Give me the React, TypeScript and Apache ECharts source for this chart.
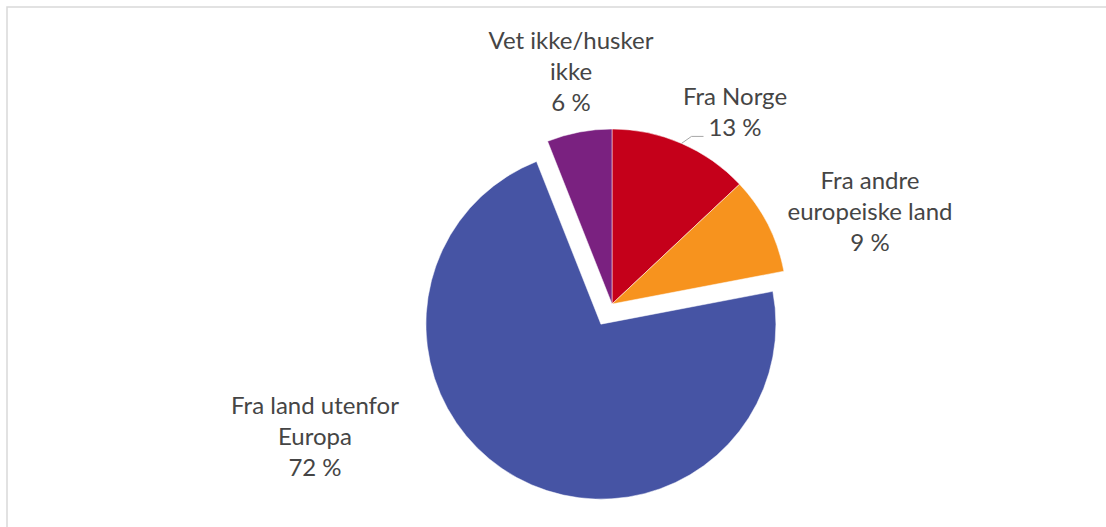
import React, { useEffect, useRef } from "react";
import * as echarts from "echarts";

const categories = ["Fra Norge", "Fra andre europeiske land", "Fra land utenfor Europa", "Vet ikke/husker ikke"];
const labelLines = [["Fra Norge"], ["Fra andre", "europeiske land"], ["Fra land utenfor", "Europa"], ["Vet ikke/husker", "ikke"]];
const values = [13, 9, 72, 6];
const colors = ["#C5001A", "#F7931E", "#4654A4", "#7A2180"];
const exploded = [false, false, true, false];

// layout (px)
const CX = 612;
const CY = 304;
const R = 175;
const labelPos = [
  [735, 111],
  [870, 210],
  [315, 435],
  [571, 70],
];

export default function App() {
  const ref = useRef<HTMLDivElement>(null);
  useEffect(() => {
    const chart = echarts.init(ref.current!, null, { renderer: "svg" });
    const total = values.reduce((a, b) => a + b, 0);
    const labelGraphics = categories.map((_, i) => ({
      type: "text",
      x: labelPos[i][0],
      y: labelPos[i][1],
      z: 10,
      style: {
        text: labelLines[i].join("\n") + "\n" + Math.round((values[i] / total) * 100) + " %",
        fill: "#454545",
        font: "24px Lato",
        lineHeight: 31,
        align: "center",
        verticalAlign: "middle",
      },
    }));
    // leader line for first slice, from its mid-angle on the rim
    const mid = ((values[0] / 2) / total) * Math.PI * 2;
    const p0 = [CX + R * Math.sin(mid), CY - R * Math.cos(mid)];
    const p1 = [p0[0] + 10, p0[1] - 7];
    const p2 = [p1[0] + 12, p1[1]];
    chart.setOption({
      animation: false,
      backgroundColor: "#ffffff",
      graphic: [
        {
          type: "rect",
          shape: { x: 7, y: 7, width: 1200, height: 600 },
          style: { fill: "none", stroke: "#d9d9d9", lineWidth: 1.5 },
          z: 0,
        },
        {
          type: "polyline",
          shape: { points: [p0, p1, p2] },
          style: { stroke: "#a6a6a6", lineWidth: 1, fill: "none" },
          z: 10,
        },
        ...labelGraphics,
      ],
      series: [
        {
          type: "pie",
          center: [CX, CY],
          radius: R,
          startAngle: 90,
          clockwise: true,
          selectedMode: "multiple",
          selectedOffset: 23,
          emphasis: { disabled: true },
          itemStyle: { borderColor: "#ffffff", borderWidth: 0.5 },
          label: { show: false },
          labelLine: { show: false },
          data: categories.map((name, i) => ({
            name,
            value: values[i],
            selected: exploded[i],
            itemStyle: { color: colors[i] },
          })),
        },
      ],
    });
    return () => chart.dispose();
  }, []);
  return (
    <div
      ref={ref}
      style={{ position: "fixed", left: 0, top: 0, width: 1106, height: 527 }}
    />
  );
}
